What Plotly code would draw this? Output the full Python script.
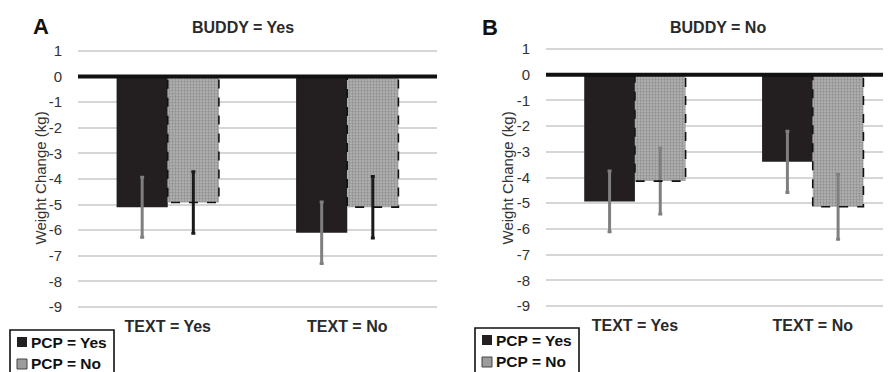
import plotly.graph_objects as go

categories = ["TEXT = Yes", "TEXT = No"]

# Panel A: BUDDY = Yes
a_pcp_yes = [-5.10, -6.10]
a_pcp_yes_err = [1.17, 1.20]
a_pcp_no = [-4.92, -5.10]
a_pcp_no_err = [1.20, 1.20]

# Panel B: BUDDY = No
b_pcp_yes = [-4.93, -3.39]
b_pcp_yes_err = [1.18, 1.19]
b_pcp_no = [-4.14, -5.14]
b_pcp_no_err = [1.28, 1.26]

y_ticks = [1, 0, -1, -2, -3, -4, -5, -6, -7, -8, -9]
y_tick_labels = ["1", "0", "-1", "-2", "-3", "-4", "-5", "-6", "-7", "-8", "-9"]
series_names = ["PCP = Yes", "PCP = No"]

BLACK = "#231f20"
GREY_ERR = "#7f7f7f"
BARGAP = 0.43
FONT = "Liberation Sans, Arial, sans-serif"

pattern = dict(shape=".", fgcolor="#666666", bgcolor="#b8b8b8", size=3, solidity=0.5)

W, H = 891, 372
OFF = 8  # page body margin: figure is drawn 8px right/down of the window corner


def px(x):
    """window pixel x -> paper fraction"""
    return (x - OFF) / W


def py(y):
    """window pixel y -> paper fraction"""
    return 1 - (y - OFF) / H


fig = go.Figure()


def add_panel(xa, ya, yes_vals, yes_err, no_vals, no_err, no_err_color):
    fig.add_trace(go.Bar(
        x=categories, y=yes_vals, name=series_names[0], xaxis=xa, yaxis=ya, showlegend=False,
        marker=dict(color=BLACK, line=dict(width=0)),
        error_y=dict(type="data", array=yes_err, color=GREY_ERR, thickness=3, width=2),
    ))
    fig.add_trace(go.Bar(
        x=categories, y=no_vals, name=series_names[1], xaxis=xa, yaxis=ya, showlegend=False,
        marker=dict(color="#b8b8b8", pattern=pattern, line=dict(width=0)),
        error_y=dict(type="data", array=no_err, color=no_err_color, thickness=3, width=2),
    ))
    bw = (1 - BARGAP) / 2
    for i, v in enumerate(no_vals):
        fig.add_shape(type="rect", xref=xa, yref=ya, x0=i, x1=i + bw, y0=0, y1=v,
                      line=dict(color="#111111", width=1.6, dash="dash"), fillcolor="rgba(0,0,0,0)")
    fig.add_shape(type="line", xref=xa + " domain", yref=ya, x0=0, x1=1, y0=0, y1=0,
                  line=dict(color="#111111", width=4))


add_panel("x", "y", a_pcp_yes, a_pcp_yes_err, a_pcp_no, a_pcp_no_err, "#1a1a1a")
add_panel("x2", "y2", b_pcp_yes, b_pcp_yes_err, b_pcp_no, b_pcp_no_err, GREY_ERR)

yaxis_common = dict(
    tickvals=y_ticks, ticktext=y_tick_labels, showgrid=True, gridcolor="#d6d6d6", gridwidth=1.5,
    zeroline=False, showline=False, ticks="", ticklabelstandoff=15, automargin=False,
    tickfont=dict(family=FONT, size=15, color="#333333"),
)
xaxis_common = dict(
    showgrid=False, zeroline=False, showline=False, ticks="", automargin=False,
    tickfont=dict(family=FONT, size=16, color="#2a2a2a", weight="bold"),
)

fig.update_layout(
    width=W, height=H,
    margin=dict(l=0, r=0, t=0, b=0, autoexpand=False),
    paper_bgcolor="white", plot_bgcolor="white",
    barmode="group", bargap=BARGAP, bargroupgap=0,
    font=dict(family=FONT),
    showlegend=False,
    xaxis=dict(domain=[px(78), px(437)], range=[-0.5, 1.5], anchor="y", **xaxis_common),
    yaxis=dict(domain=[py(314.7), py(38.2)], range=[-9.3, 1.5], anchor="x", **yaxis_common),
    xaxis2=dict(domain=[px(546), 1.0], range=[-0.5, 1.485], anchor="y2", **xaxis_common),
    yaxis2=dict(domain=[py(313.7), py(36.2)], range=[-9.3, 1.5], anchor="x2", **yaxis_common),
)

annots = [
    dict(text="<b>BUDDY = Yes</b>", x=243, y=28, size=16, color="#2a2a2a"),
    dict(text="<b>BUDDY = No</b>", x=718, y=28, size=16, color="#2a2a2a"),
    dict(text="<b>A</b>", x=41, y=27, size=22, color="#111111"),
    dict(text="<b>B</b>", x=490, y=28, size=22, color="#111111"),
]
for a in annots:
    fig.add_annotation(text=a["text"], x=px(a["x"]), y=py(a["y"]), xref="paper", yref="paper",
                       xanchor="center", yanchor="middle", showarrow=False,
                       font=dict(family=FONT, size=a["size"], color=a["color"]))

for xpos in (40, 507):
    fig.add_annotation(text="Weight Change (kg)", x=px(xpos), y=py(178.5), xref="paper", yref="paper",
                       xanchor="center", yanchor="middle", showarrow=False, textangle=-90,
                       font=dict(family=FONT, size=15, color="#333333"))

# Legend boxes (one per panel), drawn at window pixel positions
for left, top in ((10, 330), (475, 328)):
    fig.add_shape(type="rect", xref="paper", yref="paper",
                  x0=px(left), x1=px(left + 104), y0=py(top), y1=py(H + 20),
                  line=dict(color="#111111", width=1.6), fillcolor="white", layer="above")
    # symbol 1: solid black square
    fig.add_shape(type="rect", xref="paper", yref="paper",
                  x0=px(left + 7), x1=px(left + 17), y0=py(top + 7), y1=py(top + 17),
                  line=dict(width=0), fillcolor=BLACK, layer="above")
    # symbol 2: patterned grey square
    fig.add_shape(type="rect", xref="paper", yref="paper",
                  x0=px(left + 7), x1=px(left + 17), y0=py(top + 29), y1=py(top + 39),
                  line=dict(color="#444444", width=1), fillcolor="#9c9c9c", layer="above")
    for k, name in enumerate(series_names):
        fig.add_annotation(text="<b>" + name + "</b>", x=px(left + 19), y=py(top + 12 + 21.5 * k),
                           xref="paper", yref="paper", xanchor="left", yanchor="middle",
                           showarrow=False, font=dict(family=FONT, size=15.5, color="#111111"))

fig.write_html("out.html")
